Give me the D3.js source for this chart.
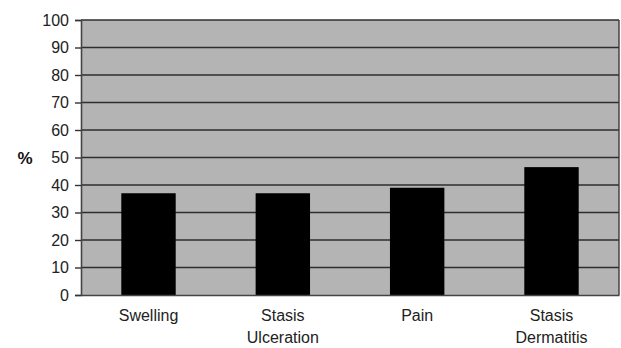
<!DOCTYPE html>
<html>
<head>
<meta charset="utf-8">
<script src="https://cdn.jsdelivr.net/npm/d3@7"></script>
<style>
  html, body { margin: 0; padding: 0; background: #fff; }
  svg { display: block; }
  .tick text { font-family: Arial, "Liberation Sans", sans-serif; }
</style>
</head>
<body>
<svg id="chart" width="621" height="348"></svg>
<script>
// Symptom categories (multi-line labels) and their percentages
const categories = [["Swelling"], ["Stasis", "Ulceration"], ["Pain"], ["Stasis", "Dermatitis"]];
const values = [37, 37, 39, 46.5];
const yTicks = [0, 10, 20, 30, 40, 50, 60, 70, 80, 90, 100];
const yLabel = "%";

const svg = d3.select("#chart");
const margin = { left: 81, right: 2, top: 20, bottom: 53 };
const W = 621, H = 348;
const iw = W - margin.left - margin.right;
const ih = H - margin.top - margin.bottom;

const keys = categories.map(c => c.join(" "));
const x = d3.scaleBand().domain(keys).range([0, iw]).paddingInner(0.595).paddingOuter(0.3);
const y = d3.scaleLinear().domain([0, 100]).range([ih, 0]);

const g = svg.append("g").attr("transform", `translate(${margin.left},${margin.top})`);

// plot area background
g.append("rect").attr("x", 0).attr("y", 0).attr("width", iw).attr("height", ih)
  .attr("fill", "#b4b4b4");

// horizontal gridlines
g.selectAll("line.grid").data(yTicks.filter(t => t > 0)).join("line")
  .attr("class", "grid")
  .attr("x1", 0).attr("x2", iw)
  .attr("y1", d => y(d)).attr("y2", d => y(d))
  .attr("stroke", "#2e2e2e").attr("stroke-width", 1.4);

// right border
g.append("line").attr("x1", iw).attr("x2", iw).attr("y1", 0).attr("y2", ih)
  .attr("stroke", "#3a3a3a").attr("stroke-width", 1.4);

// bars
g.selectAll("rect.bar").data(values).join("rect")
  .attr("class", "bar")
  .attr("x", (d, i) => x(keys[i]))
  .attr("width", x.bandwidth())
  .attr("y", d => y(d))
  .attr("height", d => ih - y(d))
  .attr("fill", "#000");

// y axis
const yAxis = g.append("g").call(d3.axisLeft(y).tickValues(yTicks).tickSize(6).tickPadding(6));
yAxis.select(".domain").attr("stroke", "#444").attr("stroke-width", 1.6);
yAxis.selectAll(".tick line").attr("stroke", "#333").attr("stroke-width", 1.4);
yAxis.selectAll(".tick text").attr("font-size", 16).attr("fill", "#222");

// x axis
const xAxis = g.append("g").attr("transform", `translate(0,${ih})`)
  .call(d3.axisBottom(x).tickSize(0).tickFormat(""));
xAxis.select(".domain").attr("stroke", "#444").attr("stroke-width", 1.6);
xAxis.selectAll(".tick").each(function(d, i) {
  const t = d3.select(this).append("text")
    .attr("text-anchor", "middle")
    .attr("font-family", "Arial, 'Liberation Sans', sans-serif")
    .attr("font-size", 16).attr("fill", "#222");
  categories[i].forEach((line, j) => {
    t.append("tspan").attr("x", 0).attr("y", 26 + j * 22).text(line);
  });
});

// y label
svg.append("text").attr("x", 25).attr("y", 164)
  .attr("text-anchor", "middle")
  .attr("font-family", "Arial, 'Liberation Sans', sans-serif")
  .attr("font-size", 17).attr("font-weight", "bold").attr("fill", "#111")
  .text(yLabel);
</script>
</body>
</html>
